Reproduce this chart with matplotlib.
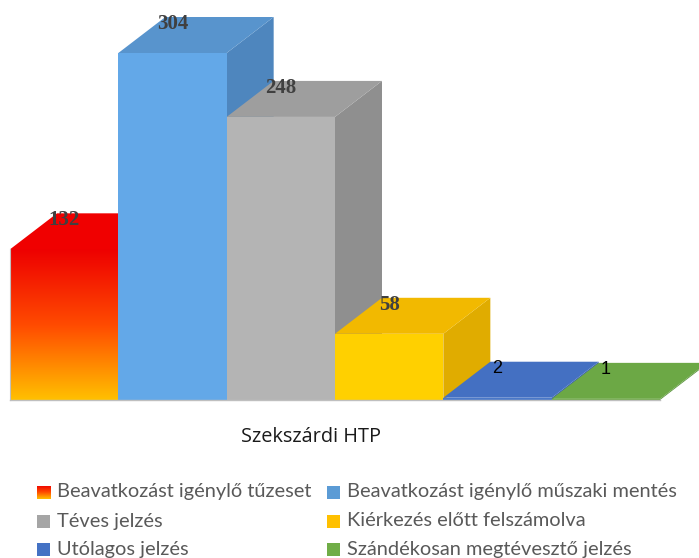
import numpy as np
import matplotlib
matplotlib.use("Agg")
import matplotlib.pyplot as plt
from matplotlib.patches import Polygon, Rectangle
from matplotlib.colors import LinearSegmentedColormap

# ---- data ----
categories = [
    "Beavatkozást igénylő tűzeset",
    "Beavatkozást igénylő műszaki mentés",
    "Téves jelzés",
    "Kiérkezés előtt felszámolva",
    "Utólagos jelzés",
    "Szándékosan megtévesztő jelzés",
]
values = [132, 304, 248, 58, 2, 1]
group_label = "Szekszárdi HTP"

# ---- styles ----
front_colors = [None, "#63A8E8", "#B4B4B4", "#FFD000", "#4A78C8", "#70AA48"]
top_colors = ["#F00000", "#5894CD", "#9E9E9E", "#F2B900", "#4470C2", "#6CA845"]
side_colors = ["#D00000", "#4E86BE", "#8F8F8F", "#E0AC00", "#3A62AA", "#5E9640"]
legend_colors = [None, "#5B9BD5", "#A5A5A5", "#FFC000", "#4472C4", "#70AD47"]
grad_cmap = LinearSegmentedColormap.from_list(
    "fire", [(0.0, "#FFC000"), (0.5, "#FF4A00"), (1.0, "#EE0000")])

W, H = 699, 558
fig = plt.figure(figsize=(W / 100, H / 100), dpi=100)

# axes: x from -0.5..5.5 -> px 10..660 ; y 0 at px 400 from top, 304 units = 347 px
ppu = 347 / 304.0
ymax = 350
ax_h = ymax * ppu
ax = fig.add_axes([10 / W, (H - 400) / H, 650 / W, ax_h / H])
ax.set_xlim(-0.5, 5.5)
ax.set_ylim(0, ymax)
ax.axis("off")

DX = 47 / (650 / 6.0)
DY = 36 / ppu

n = len(values)
for i, v in enumerate(values):
    l, r = i - 0.5, i + 0.5
    side = [(r, 0), (r + DX, DY), (r + DX, v + DY), (r, v)]
    top = [(l, v), (r, v), (r + DX, v + DY), (l + DX, v + DY)]
    front = [(l, 0), (r, 0), (r, v), (l, v)]
    ax.add_patch(Polygon(side, closed=True, facecolor=side_colors[i],
                         edgecolor="none", clip_on=False, zorder=2 + 3 * i))
    ax.add_patch(Polygon(top, closed=True, facecolor=top_colors[i],
                         edgecolor="none", clip_on=False, zorder=3 + 3 * i))
    if front_colors[i] is None:
        fp = Polygon(front, closed=True, facecolor="none", edgecolor="none",
                     clip_on=False, zorder=4 + 3 * i)
        ax.add_patch(fp)
        grad = np.linspace(0, 1, 256).reshape(-1, 1)
        im = ax.imshow(grad, cmap=grad_cmap, origin="lower", aspect="auto",
                       extent=[l, r, 0, v], zorder=4 + 3 * i,
                       interpolation="bilinear")
        im.set_clip_path(fp)
        # thin left edge
        ax.plot([l, l], [0, v], color="#C0C0C0", lw=0.8, zorder=5 + 3 * i,
                clip_on=False)
    else:
        ax.add_patch(Polygon(front, closed=True, facecolor=front_colors[i],
                             edgecolor="none", clip_on=False, zorder=4 + 3 * i))

ax.set_xlim(-0.5, 5.5)
ax.set_ylim(0, ymax)

# baseline
ax.plot([-0.5, 5.5], [0, 0], color="#BFBFBF", lw=1.0, zorder=40, clip_on=False)

# value labels
for i, v in enumerate(values):
    y = v + DY - 7 / ppu
    if v >= 10:
        ax.text(i, y, str(v), ha="center", va="center", fontsize=15,
                fontweight="bold", family="Liberation Serif", color="#404040",
                zorder=50)
    else:
        ax.text(i, y, str(v), ha="center", va="center", fontsize=13,
                family="Liberation Sans", color="#000000", zorder=50)

# category label
fig.text(311 / W, 1 - 437 / H, group_label, ha="center", va="center",
         fontsize=14.3, family="Open Sans", color="#1A1A1A")

# legend (two columns, row-wise order)
col_x = [37, 327]
row_y = [492, 521, 549.5]
msz = 13
for k, name in enumerate(categories):
    row, col = divmod(k, 2)
    mx = col_x[col]
    my = row_y[row]
    if legend_colors[k] is None:
        lax = fig.add_axes([mx / W, (H - my - msz / 2) / H, msz / W, msz / H])
        lax.imshow(np.linspace(0, 1, 64).reshape(-1, 1), cmap=grad_cmap,
                   origin="lower", aspect="auto", extent=[0, 1, 0, 1])
        lax.axis("off")
    else:
        fig.patches.append(Rectangle((mx / W, (H - my - msz / 2) / H),
                                     msz / W, msz / H,
                                     transform=fig.transFigure,
                                     facecolor=legend_colors[k],
                                     edgecolor="none"))
    fig.text((mx + 20) / W, 1 - my / H, name, ha="left", va="center",
             fontsize=14.4, family="Lato", color="#595959")

fig.savefig("out.png", dpi=100)
